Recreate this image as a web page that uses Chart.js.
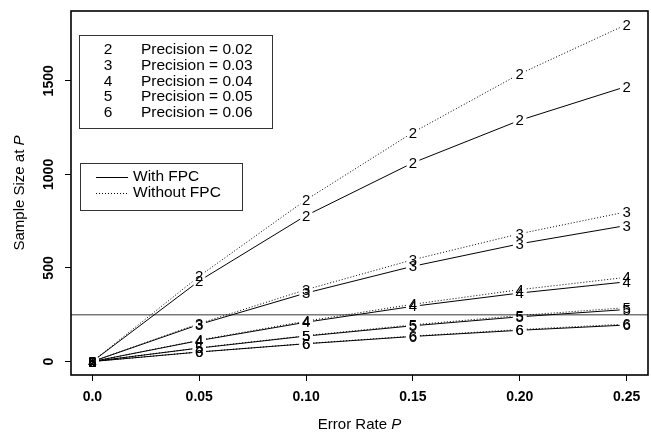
<!DOCTYPE html>
<html>
<head>
<meta charset="utf-8">
<script src="https://cdn.jsdelivr.net/npm/chart.js@4"></script>
<style>
  body { margin: 0; background: #fff; }
  canvas { display: block; }
</style>
</head>
<body>
<canvas id="sampleChart" width="651" height="434"></canvas>
<script>
var errorRates = [0, 0.05, 0.1, 0.15, 0.2, 0.25]
var symbols = ['2', '3', '4', '5', '6']
var precisions = ['0.02', '0.03', '0.04', '0.05', '0.06']

// sample sizes with the finite population correction
var withFpc2 = [0, 431, 780, 1062, 1289, 1470]
var withFpc3 = [0, 198, 366, 509, 629, 727]
var withFpc4 = [0, 112, 210, 295, 366, 426]
var withFpc5 = [0, 72, 136, 191, 239, 278]
var withFpc6 = [0, 51, 95, 134, 167, 195]

// sample sizes without it
var withoutFpc2 = [0, 456, 864, 1224, 1537, 1801]
var withoutFpc3 = [0, 203, 384, 544, 683, 800]
var withoutFpc4 = [0, 114, 216, 306, 384, 450]
var withoutFpc5 = [0, 73, 138, 196, 246, 288]
var withoutFpc6 = [0, 51, 96, 136, 171, 200]

var xTicks = [0, 0.05, 0.1, 0.15, 0.2, 0.25]
var xTickLabels = ['0.0', '0.05', '0.10', '0.15', '0.20', '0.25']
var yTicks = [0, 500, 1000, 1500]
var yTickLabels = ['0', '500', '1000', '1500']
var cutoffSize = 250

var FONT = '"Liberation Sans", Arial, Helvetica, sans-serif'

var withFpc = [withFpc2, withFpc3, withFpc4, withFpc5, withFpc6]
var withoutFpc = [withoutFpc2, withoutFpc3, withoutFpc4, withoutFpc5, withoutFpc6]

function toPoints(values) {
  return errorRates.map(function (p, i) {
    return { x: p, y: values[i] }
  })
}

var datasets = []
symbols.forEach(function (sym, i) {
  datasets.push({
    label: 'Without FPC ' + sym,
    symbol: sym,
    dotted: true,
    data: toPoints(withoutFpc[i]),
  })
  datasets.push({
    label: 'With FPC ' + sym,
    symbol: sym,
    dotted: false,
    data: toPoints(withFpc[i]),
  })
})

// lines broken around each plotted digit, then the digits themselves
var symbolLines = {
  id: 'symbolLines',
  afterDatasetsDraw: function (chart) {
    var ctx = chart.ctx
    var area = chart.chartArea
    var gap = 7
    ctx.save()
    ctx.beginPath()
    ctx.rect(area.left, area.top, area.right - area.left, area.bottom - area.top)
    ctx.clip()

    // reference line
    var yRef = chart.scales.y.getPixelForValue(cutoffSize)
    ctx.strokeStyle = '#7a7a7a'
    ctx.lineWidth = 1.5
    ctx.beginPath()
    ctx.moveTo(area.left, yRef)
    ctx.lineTo(area.right, yRef)
    ctx.stroke()

    chart.data.datasets.forEach(function (ds, di) {
      var pts = chart.getDatasetMeta(di).data
      ctx.strokeStyle = '#000'
      ctx.lineWidth = 1
      ctx.setLineDash(ds.dotted ? [1, 2] : [])
      for (var k = 0; k < pts.length - 1; k++) {
        var a = pts[k]
        var b = pts[k + 1]
        var dx = b.x - a.x
        var dy = b.y - a.y
        var len = Math.sqrt(dx * dx + dy * dy)
        if (len <= gap * 2) continue
        var ux = dx / len
        var uy = dy / len
        ctx.beginPath()
        ctx.moveTo(a.x + ux * gap, a.y + uy * gap)
        ctx.lineTo(b.x - ux * gap, b.y - uy * gap)
        ctx.stroke()
      }
      ctx.setLineDash([])
      ctx.fillStyle = '#000'
      ctx.font = '15px ' + FONT
      ctx.textAlign = 'center'
      ctx.textBaseline = 'middle'
      pts.forEach(function (pt) {
        ctx.fillText(ds.symbol, pt.x, pt.y + 1)
      })
    })
    ctx.restore()
  },
}

function drawMixed(ctx, plain, italic, cx, cy) {
  ctx.font = '15px ' + FONT
  var w1 = ctx.measureText(plain).width
  ctx.font = 'italic 15px ' + FONT
  var w2 = ctx.measureText(italic).width
  var x0 = cx - (w1 + w2) / 2
  ctx.textAlign = 'left'
  ctx.textBaseline = 'middle'
  ctx.font = '15px ' + FONT
  ctx.fillText(plain, x0, cy)
  ctx.font = 'italic 15px ' + FONT
  ctx.fillText(italic, x0 + w1, cy)
}

// frame, y labels, axis titles and the two keys
var frameAndKeys = {
  id: 'frameAndKeys',
  afterDraw: function (chart) {
    var ctx = chart.ctx
    var area = chart.chartArea
    var yScale = chart.scales.y
    ctx.save()
    ctx.strokeStyle = '#000'
    ctx.lineWidth = 1.6
    ctx.strokeRect(area.left, area.top, area.right - area.left, area.bottom - area.top)

    ctx.fillStyle = '#000'
    ctx.font = 'bold 14px ' + FONT
    ctx.textAlign = 'center'
    ctx.textBaseline = 'middle'
    yTicks.forEach(function (v, i) {
      var y = yScale.getPixelForValue(v)
      ctx.save()
      ctx.translate(49, y)
      ctx.rotate(-Math.PI / 2)
      ctx.fillText(yTickLabels[i], 0, 0)
      ctx.restore()
    })

    drawMixed(ctx, 'Error Rate ', 'P', (area.left + area.right) / 2, 425)
    ctx.save()
    ctx.translate(20, (area.top + area.bottom) / 2)
    ctx.rotate(-Math.PI / 2)
    drawMixed(ctx, 'Sample Size at ', 'P', 0, 0)
    ctx.restore()

    // key for the digits
    ctx.lineWidth = 1
    ctx.strokeStyle = '#333'
    ctx.strokeRect(79.5, 35.5, 193, 93)
    ctx.font = '15.5px ' + FONT
    ctx.textBaseline = 'middle'
    symbols.forEach(function (sym, i) {
      var y = 50 + i * 15.7
      ctx.textAlign = 'center'
      ctx.fillText(sym, 108, y)
      ctx.textAlign = 'left'
      ctx.fillText('Precision = ' + precisions[i], 141, y)
    })

    // key for the line types
    ctx.strokeRect(80.5, 163.5, 162, 47)
    ctx.strokeStyle = '#000'
    ctx.beginPath()
    ctx.moveTo(96, 177.5)
    ctx.lineTo(128, 177.5)
    ctx.stroke()
    ctx.setLineDash([1, 2])
    ctx.beginPath()
    ctx.moveTo(96, 193.5)
    ctx.lineTo(128, 193.5)
    ctx.stroke()
    ctx.setLineDash([])
    ctx.textAlign = 'left'
    ctx.fillText('With FPC', 133, 177)
    ctx.fillText('Without FPC', 133, 193)
    ctx.restore()
  },
}

new Chart(document.getElementById('sampleChart').getContext('2d'), {
  type: 'scatter',
  data: { datasets: datasets },
  options: {
    responsive: false,
    animation: false,
    devicePixelRatio: 1,
    layout: { padding: { top: 11, right: 3, left: 0, bottom: 0 } },
    elements: { point: { radius: 0, hoverRadius: 0 } },
    plugins: { legend: { display: false }, tooltip: { enabled: false } },
    scales: {
      x: {
        type: 'linear',
        min: -0.01,
        max: 0.26,
        afterBuildTicks: function (scale) {
          scale.ticks = xTicks.map(function (v) { return { value: v } })
        },
        afterFit: function (scale) { scale.height = 59 },
        border: { display: false },
        grid: { drawOnChartArea: false, drawTicks: true, tickLength: 6, color: '#000' },
        ticks: {
          color: '#000',
          font: { family: FONT, size: 14, weight: 'bold' },
          padding: 8,
          maxRotation: 0,
          autoSkip: false,
          callback: function (value, index) { return xTickLabels[index] },
        },
      },
      y: {
        type: 'linear',
        min: -72,
        max: 1873,
        afterBuildTicks: function (scale) {
          scale.ticks = yTicks.map(function (v) { return { value: v } })
        },
        afterFit: function (scale) { scale.width = 71 },
        border: { display: false },
        grid: { drawOnChartArea: false, drawTicks: true, tickLength: 6, color: '#000' },
        ticks: { display: false },
      },
    },
  },
  plugins: [symbolLines, frameAndKeys],
})
</script>
</body>
</html>
